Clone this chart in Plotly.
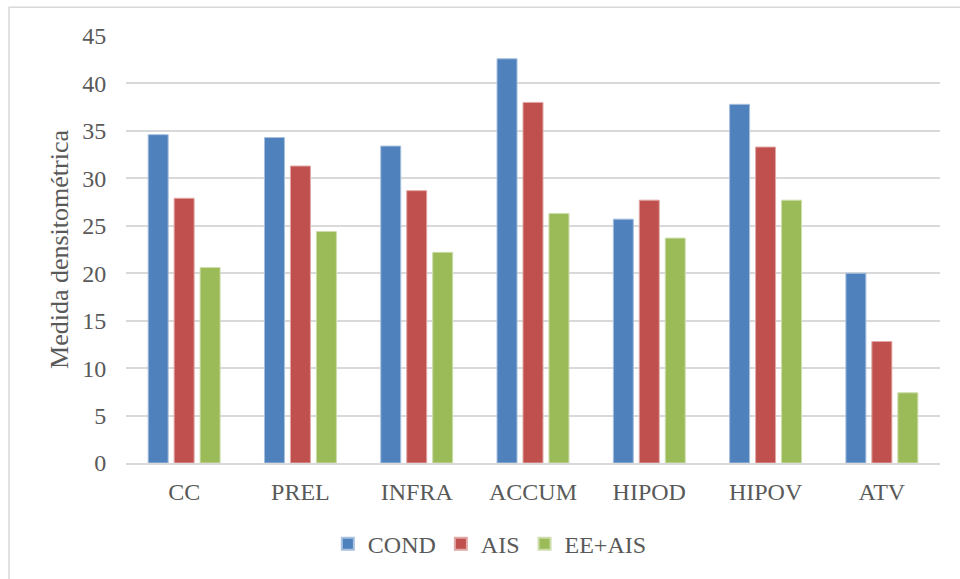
import plotly.graph_objects as go

categories = ["CC", "PREL", "INFRA", "ACCUM", "HIPOD", "HIPOV", "ATV"]
cond = [34.6, 34.3, 33.4, 42.6, 25.7, 37.8, 20.0]
ais = [27.9, 31.3, 28.7, 38.0, 27.7, 33.3, 12.8]
ee_ais = [20.6, 24.4, 22.2, 26.3, 23.7, 27.7, 7.4]
series_names = ["COND", "AIS", "EE+AIS"]
colors = ["#4F81BD", "#C0504D", "#9BBB59"]
edge_colors = ["#A7C0DE", "#E0A8A6", "#CDDDAC"]
y_ticks = [0, 5, 10, 15, 20, 25, 30, 35, 40, 45]

FONT = "Liberation Serif, Times New Roman, serif"
TEXT = "#595959"

fig = go.Figure()
for name, vals, c, ec in zip(series_names, [cond, ais, ee_ais], colors, edge_colors):
    fig.add_trace(go.Bar(
        x=categories, y=vals, name=name,
        marker=dict(color=c, line=dict(color=ec, width=1)),
    ))

fig.update_layout(
    width=960, height=579,
    margin=dict(l=126, r=20, t=36, b=113),
    paper_bgcolor="white", plot_bgcolor="white",
    barmode="group", bargap=0.33, bargroupgap=0.23,
    font=dict(family=FONT, color=TEXT, size=24),
    showlegend=True,
    legend=dict(orientation="h", x=0.447, xanchor="center", y=-0.19, yanchor="middle",
                font=dict(family=FONT, size=24, color=TEXT), itemsizing="constant",
                itemwidth=30, traceorder="normal", tracegroupgap=0),
    shapes=[dict(type="rect", xref="paper", yref="paper",
                 x0=(9 - 126) / 814, x1=1.2, y0=-0.4, y1=(466 - 7) / 430,
                 line=dict(color="#D9D9D9", width=1.5), fillcolor="rgba(0,0,0,0)", layer="below")],
)
fig.update_yaxes(range=[0, 45], tickvals=y_ticks, showgrid=True, gridcolor="#D9D9D9", gridwidth=1.5,
                 zeroline=False, showline=False, ticks="outside", ticklen=14, tickcolor="rgba(0,0,0,0)",
                 tickfont=dict(family=FONT, size=24, color=TEXT),
                 title=dict(text="Medida densitométrica", font=dict(family=FONT, size=26, color=TEXT), standoff=6))
fig.update_xaxes(showline=True, linecolor="#D9D9D9", linewidth=1.5, ticks="outside", ticklen=6,
                 tickcolor="rgba(0,0,0,0)", tickfont=dict(family=FONT, size=24, color=TEXT))

fig.write_html("out.html", config={"displayModeBar": False})

with open("out.html", "r", encoding="utf-8") as f:
    html = f.read()
html = html.replace("<head>", "<head><style>html,body{margin:0;padding:0;overflow:hidden;}</style>", 1)
with open("out.html", "w", encoding="utf-8") as f:
    f.write(html)
